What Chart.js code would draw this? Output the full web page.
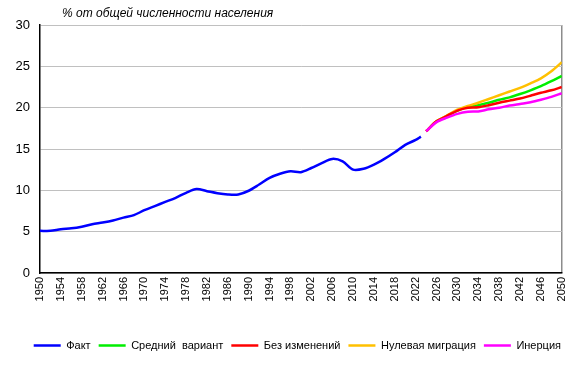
<!DOCTYPE html>
<html lang="ru">
<head>
    <meta charset="UTF-8">
    <title>Доля населения</title>
    <script src="https://cdn.jsdelivr.net/npm/chart.js"></script>
    <style>
        html, body { margin: 0; padding: 0; background: #fff; }
        .box-grafico { width: 579px; height: 368px; }
    </style>
</head>
<body>
<div class="box-grafico">
    <canvas id="grafico_populacao"></canvas>
</div>
<script>
    // dados
    const anos_fato = [1950, 1952, 1954, 1956, 1958, 1960, 1962, 1964, 1966, 1968, 1970, 1972, 1974, 1976, 1978,
        1980, 1982, 1984, 1986, 1988, 1990, 1992, 1994, 1996, 1998, 2000, 2002, 2004, 2006, 2008, 2010,
        2012, 2014, 2016, 2018, 2020, 2022, 2023];
    const valores_fato = [5.1, 5.1, 5.3, 5.4, 5.6, 5.9, 6.1, 6.35, 6.7, 7.0, 7.6, 8.1, 8.6, 9.1, 9.7,
        10.15, 9.9, 9.65, 9.5, 9.5, 9.95, 10.7, 11.5, 12.0, 12.3, 12.2, 12.7, 13.3, 13.8, 13.5, 12.5,
        12.6, 13.1, 13.8, 14.6, 15.5, 16.1, 16.5];

    const anos_prognoz = [2024, 2026, 2028, 2030, 2032, 2034, 2036, 2038, 2040, 2042, 2044, 2046, 2048, 2050];
    const valores_medio   = [17.15, 18.35, 19.0, 19.65, 20.1, 20.3, 20.6, 20.95, 21.25, 21.65, 22.1, 22.6, 23.2, 23.85];
    const valores_sem     = [17.15, 18.35, 19.0, 19.65, 20.0, 20.05, 20.3, 20.6, 20.85, 21.1, 21.45, 21.8, 22.1, 22.5];
    const valores_nulo    = [17.15, 18.35, 19.05, 19.75, 20.2, 20.6, 21.05, 21.5, 21.95, 22.4, 22.95, 23.55, 24.4, 25.5];
    const valores_inercia = [17.15, 18.25, 18.8, 19.25, 19.5, 19.55, 19.8, 20.0, 20.25, 20.45, 20.65, 20.95, 21.3, 21.75];

    const rotulos_x = [1950, 1954, 1958, 1962, 1966, 1970, 1974, 1978, 1982, 1986, 1990, 1994, 1998,
        2002, 2006, 2010, 2014, 2018, 2022, 2026, 2030, 2034, 2038, 2042, 2046, 2050];
    const rotulos_y = [0, 5, 10, 15, 20, 25, 30];

    function pontos(anos, valores) {
        return anos.map((a, i) => ({ x: a, y: valores[i] }));
    }

    Chart.defaults.font.family = '"Liberation Sans", Arial, sans-serif';
    Chart.defaults.color = '#000';

    // subtitulo em itálico acima da área do gráfico
    const subtitulo = {
        id: 'subtitulo',
        afterDraw(chart) {
            const ctx = chart.ctx;
            ctx.save();
            ctx.font = 'italic 12px "Liberation Sans", Arial, sans-serif';
            ctx.fillStyle = '#000';
            ctx.textBaseline = 'middle';
            ctx.fillText('% от общей численности населения', chart.chartArea.left + 22, 14);
            ctx.restore();
        }
    };

    function serie(rotulo, dados, cor, ordem) {
        return { label: rotulo, data: dados, borderColor: cor, backgroundColor: cor, borderWidth: 2.5, order: ordem };
    }

    const configLinha = {
        type: 'line',
        data: {
            datasets: [
                serie('Факт', pontos(anos_fato, valores_fato), '#0000ff', 0),
                serie('Средний  вариант', pontos(anos_prognoz, valores_medio), '#00ee00', 4),
                serie('Без изменений', pontos(anos_prognoz, valores_sem), '#ff0000', 2),
                serie('Нулевая миграция', pontos(anos_prognoz, valores_nulo), '#ffc000', 3),
                serie('Инерция', pontos(anos_prognoz, valores_inercia), '#ff00ff', 1)
            ]
        },
        options: {
            responsive: true,
            maintainAspectRatio: false,
            animation: false,
            layout: { padding: { top: 25, right: 10, bottom: 7, left: 0 } },
            elements: {
                line: { tension: 0.3, fill: false },
                point: { radius: 0 }
            },
            plugins: {
                tooltip: { enabled: false },
                legend: {
                    position: 'bottom',
                    align: 'end',
                    labels: {
                        usePointStyle: true,
                        pointStyle: 'line',
                        pointStyleWidth: 27,
                        padding: 8,
                        font: { size: 11 },
                        sort: (a, b) => a.datasetIndex - b.datasetIndex
                    }
                }
            },
            scales: {
                x: {
                    type: 'linear',
                    min: 1950,
                    max: 2050,
                    afterBuildTicks: (scale) => { scale.ticks = rotulos_x.map(v => ({ value: v })); },
                    afterFit: (scale) => { scale.height = 59; },
                    ticks: {
                        autoSkip: false,
                        minRotation: 90,
                        maxRotation: 90,
                        padding: 4,
                        font: { size: 11 },
                        callback: (v) => String(v)
                    },
                    grid: {
                        drawTicks: false,
                        color: (c) => (c.tick && c.tick.value === 2050) ? '#8c8c8c' : 'rgba(0,0,0,0)',
                        lineWidth: 1.5
                    },
                    border: { color: '#000', width: 1.5 }
                },
                y: {
                    min: 0,
                    max: 30,
                    afterBuildTicks: (scale) => { scale.ticks = rotulos_y.map(v => ({ value: v })); },
                    afterFit: (scale) => { scale.width = 40; },
                    ticks: { padding: 10, font: { size: 13 } },
                    grid: { drawTicks: false, color: '#c0c0c0', lineWidth: 1 },
                    border: { color: '#000', width: 1.5 }
                },
                // eixo vazio só para reservar a margem direita
                y2: {
                    position: 'right',
                    afterFit: (scale) => { scale.width = 6; },
                    ticks: { display: false },
                    grid: { display: false, drawTicks: false },
                    border: { display: false }
                }
            }
        },
        plugins: [subtitulo]
    };

    var graficoLinha = new Chart(document.getElementById('grafico_populacao'), configLinha);
</script>
</body>
</html>
